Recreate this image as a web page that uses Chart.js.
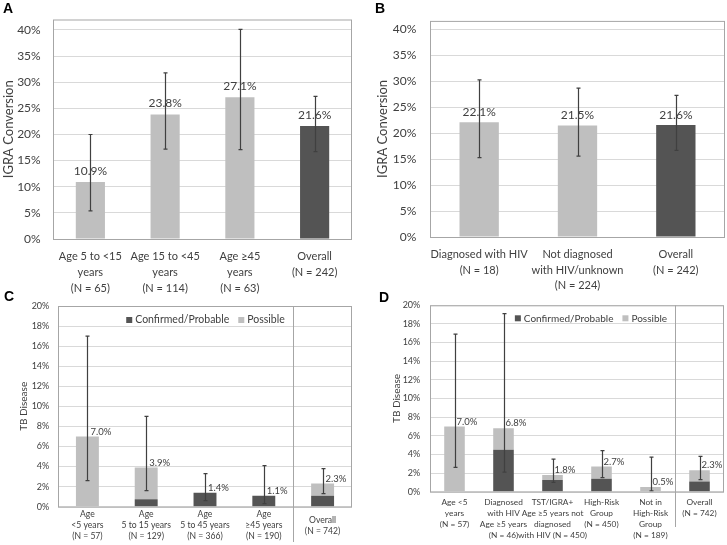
<!DOCTYPE html>
<html>
<head>
<meta charset="utf-8">
<script src="https://cdn.jsdelivr.net/npm/chart.js@4.4.1/dist/chart.umd.min.js"></script>
<style>
  body { margin: 0; background: #fff; }
  #wrap { position: relative; width: 727px; height: 545px; overflow: hidden; }
  canvas { position: absolute; }
  .tag { position: absolute; font: bold 14px "Liberation Sans", Arial, sans-serif; color: #000; }
</style>
</head>
<body>
<div id="wrap">
  <canvas id="cC" width="362" height="255" style="left:0;top:290px"></canvas>
  <canvas id="cD" width="365" height="255" style="left:362px;top:290px"></canvas>
  <canvas id="cA" width="362" height="300" style="left:0;top:0"></canvas>
  <canvas id="cB" width="365" height="300" style="left:362px;top:0"></canvas>
  <div class="tag" style="left:3px;top:0px">A</div>
  <div class="tag" style="left:375px;top:0px">B</div>
  <div class="tag" style="left:4px;top:288px">C</div>
  <div class="tag" style="left:379px;top:289px">D</div>
</div>
<script>
// --- Daten ---
const catsA = [['Age 5 to <15', 'years', '(N = 65)'], ['Age 15 to <45', 'years', '(N = 114)'], ['Age ≥45', 'years', '(N = 63)'], ['Overall', '(N = 242)']];
const igraA = [10.9, 23.8, 27.1, 21.6];
const igraALow = [5.4, 17.2, 17.1, 16.7];
const igraAHigh = [20.0, 31.8, 40.1, 27.3];

const catsB = [['Diagnosed with HIV', '(N = 18)'], ['Not diagnosed', 'with HIV/unknown', '(N = 224)'], ['Overall', '(N = 242)']];
const igraB = [22.1, 21.5, 21.6];
const igraBLow = [15.3, 15.6, 16.7];
const igraBHigh = [30.3, 28.7, 27.3];

const catsC = [['Age', '<5 years', '(N = 57)'], ['Age', '5 to 15 years', '(N = 129)'], ['Age', '5 to 45 years', '(N = 366)'], ['Age', '≥45 years', '(N = 190)'], ['Overall', '(N = 742)']];
const confC = [0, 0.75, 1.4, 1.1, 1.1];
const possC = [7.0, 3.15, 0, 0, 1.2];
const totalC = ['7.0%', '3.9%', '1.4%', '1.1%', '2.3%'];
const tbCLow = [2.6, 1.6, 0.6, 0.3, 1.3];
const tbCHigh = [17.0, 9.0, 3.3, 4.1, 3.8];

const catsD = [['Age <5', 'years', '(N = 57)'], ['Diagnosed', 'with HIV', 'Age ≥5 years', '(N = 46)'], ['TST/IGRA+', 'Age ≥5 years not', 'diagnosed', 'with HIV (N = 450)'], ['High-Risk', 'Group', '(N = 450)'], ['Not in', 'High-Risk', 'Group', '(N = 189)'], ['Overall', '(N = 742)']];
const confD = [0, 4.5, 1.25, 1.4, 0, 1.1];
const possD = [7.0, 2.3, 0.55, 1.3, 0.5, 1.2];
const totalD = ['7.0%', '6.8%', '1.8%', '2.7%', '0.5%', '2.3%'];
const tbDLow = [2.6, 2.1, 1.0, 1.5, 0.1, 1.3];
const tbDHigh = [16.9, 19.1, 3.5, 4.4, 3.7, 3.8];

// --- Farben ---
const LIGHT = '#bfbfbf';
const DARK = '#545454';
const FONT = 'Lato';

// --- Plugins ---
const frame = {
  id: 'frame',
  beforeDatasetsDraw(chart, args, opts) {
    const {ctx, chartArea: a, scales: {x}} = chart;
    ctx.save();
    ctx.strokeStyle = '#a6a6a6';
    ctx.lineWidth = 1;
    ctx.strokeRect(a.left + 0.5, a.top + 0.5, a.right - a.left - 1, a.bottom - a.top);
    if (opts.dividerBottom) {
      const n = chart.data.labels.length;
      const dx = Math.round((x.getPixelForValue(n - 2) + x.getPixelForValue(n - 1)) / 2) + 0.5;
      ctx.beginPath();
      ctx.moveTo(dx, a.top);
      ctx.lineTo(dx, opts.dividerBottom);
      ctx.stroke();
    }
    ctx.restore();
  }
};

const errorBars = {
  id: 'errorBars',
  afterDatasetsDraw(chart, args, opts) {
    const {ctx, scales: {x, y}} = chart;
    ctx.save();
    ctx.strokeStyle = '#404040';
    ctx.lineWidth = 1.2;
    opts.low.forEach((lo, i) => {
      const px = Math.round(x.getPixelForValue(i)) + 0.5;
      const y1 = y.getPixelForValue(lo);
      const y2 = y.getPixelForValue(opts.high[i]);
      ctx.beginPath();
      ctx.moveTo(px, y1); ctx.lineTo(px, y2);
      ctx.moveTo(px - 2, y1); ctx.lineTo(px + 2, y1);
      ctx.moveTo(px - 2, y2); ctx.lineTo(px + 2, y2);
      ctx.stroke();
    });
    ctx.restore();
  }
};

const valueLabels = {
  id: 'valueLabels',
  afterDatasetsDraw(chart, args, opts) {
    const {ctx, scales: {x, y}} = chart;
    ctx.save();
    ctx.fillStyle = '#404040';
    ctx.font = opts.size + 'px ' + FONT;
    ctx.textBaseline = 'middle';
    ctx.textAlign = opts.mode === 'above' ? 'center' : 'left';
    opts.text.forEach((t, i) => {
      const top = y.getPixelForValue(parseFloat(t));
      const px = x.getPixelForValue(i) + (opts.mode === 'above' ? 0 : opts.dx);
      ctx.fillText(t, px, top - opts.dy);
    });
    ctx.restore();
  }
};

const boxLegend = {
  id: 'boxLegend',
  afterDraw(chart, args, opts) {
    if (!opts.cx) return;
    const {ctx} = chart;
    ctx.save();
    ctx.font = opts.size + 'px ' + FONT;
    ctx.textBaseline = 'middle';
    const items = chart.data.datasets.map(d => ({label: d.label, color: d.backgroundColor, w: ctx.measureText(d.label).width}));
    const total = items.reduce((s, it) => s + 6 + 3 + it.w, 0) + 9 * (items.length - 1);
    let px = opts.cx - total / 2;
    items.forEach(it => {
      ctx.fillStyle = it.color;
      ctx.fillRect(px, opts.cy - 3, 6, 6);
      px += 9;
      ctx.fillStyle = '#404040';
      ctx.fillText(it.label, px, opts.cy);
      px += it.w + 9;
    });
    ctx.restore();
  }
};

// --- Chart-Fabrik ---
function makeChart(id, cfg) {
  const datasets = cfg.stacked
    ? [{label: 'Confirmed/Probable', data: cfg.conf, backgroundColor: DARK},
       {label: 'Possible', data: cfg.poss, backgroundColor: LIGHT}]
    : [{label: 'IGRA', data: cfg.values, backgroundColor: cfg.values.map((v, i) => i === cfg.values.length - 1 ? DARK : LIGHT)}];
  datasets.forEach(d => { d.barPercentage = cfg.barPct; d.categoryPercentage = 1; });

  return new Chart(document.getElementById(id), {
    type: 'bar',
    data: {labels: cfg.labels, datasets},
    options: {
      responsive: false,
      animation: false,
      devicePixelRatio: 1,
      layout: {padding: {left: 0, top: cfg.padTop, right: cfg.padRight, bottom: 0}},
      scales: {
        x: {
          stacked: !!cfg.stacked,
          grid: {display: false, drawTicks: false},
          border: {display: false},
          ticks: {
            autoSkip: false, maxRotation: 0, minRotation: 0,
            padding: cfg.xPad, crossAlign: cfg.xAlign || 'near',
            color: '#404040',
            font: {family: FONT, size: cfg.xSize, lineHeight: cfg.xLine + 'px'}
          },
          afterFit: s => { s.height = cfg.xHeight; }
        },
        y: {
          stacked: !!cfg.stacked,
          min: 0, max: cfg.yMax,
          grid: {color: '#d9d9d9', drawTicks: false},
          border: {display: false},
          ticks: {
            stepSize: cfg.step, includeBounds: false, padding: cfg.yPad,
            color: '#404040',
            font: {family: FONT, size: cfg.ySize},
            callback: v => v + '%'
          },
          title: {
            display: true, text: cfg.yTitle, color: '#404040',
            font: {family: FONT, size: cfg.titleSize},
            padding: {top: cfg.titlePad, bottom: 0}
          },
          afterFit: s => { s.width = cfg.yWidth; }
        }
      },
      plugins: {
        legend: {display: false},
        tooltip: {enabled: false},
        frame: {dividerBottom: cfg.dividerBottom},
        errorBars: {low: cfg.low, high: cfg.high},
        valueLabels: {text: cfg.text, mode: cfg.labelMode, size: cfg.labelSize, dx: cfg.labelDx, dy: cfg.labelDy},
        boxLegend: {cx: cfg.legendX, cy: cfg.legendY, size: cfg.legendSize}
      }
    },
    plugins: [frame, errorBars, valueLabels, boxLegend]
  });
}

makeChart('cA', {
  labels: catsA, values: igraA, low: igraALow, high: igraAHigh,
  text: igraA.map(v => v.toFixed(1) + '%'), labelMode: 'above', labelSize: 12, labelDy: 11,
  barPct: 0.39, yMax: 42, step: 5, padTop: 10, padRight: 10, yWidth: 53, xHeight: 61,
  xPad: 9.5, xSize: 11, xLine: 16, yPad: 12.3, ySize: 12,
  yTitle: 'IGRA Conversion', titleSize: 13, titlePad: 1.5
});

makeChart('cB', {
  labels: catsB, values: igraB, low: igraBLow, high: igraBHigh,
  text: igraB.map(v => v.toFixed(1) + '%'), labelMode: 'above', labelSize: 12, labelDy: 10,
  barPct: 0.40, yMax: 41.65, step: 5, padTop: 10, padRight: 2, yWidth: 68, xHeight: 63,
  xPad: 10, xSize: 11, xLine: 15.5, yPad: 13.7, ySize: 12,
  yTitle: 'IGRA Conversion', titleSize: 13, titlePad: 12.9
});

makeChart('cC', {
  stacked: true, labels: catsC, conf: confC, poss: possC, low: tbCLow, high: tbCHigh,
  text: totalC, labelMode: 'right', labelSize: 9.5, labelDx: 3, labelDy: 5,
  barPct: 0.39, yMax: 20, step: 2, padTop: 16, padRight: 10, yWidth: 58, xHeight: 38.3,
  xPad: 7.6, xAlign: 'center', xSize: 8.6, xLine: 11, yPad: 8.7, ySize: 9,
  yTitle: 'TB Disease', titleSize: 10, titlePad: 17.3,
  dividerBottom: 252, legendX: 205.5, legendY: 30, legendSize: 10.5
});

makeChart('cD', {
  stacked: true, labels: catsD, conf: confD, poss: possD, low: tbDLow, high: tbDHigh,
  text: totalD, labelMode: 'right', labelSize: 9.5, labelDx: 2, labelDy: 5,
  barPct: 0.42, yMax: 20, step: 2, padTop: 15.3, padRight: 3, yWidth: 68, xHeight: 53.3,
  xPad: 4.7, xSize: 8.3, xLine: 11.2, yPad: 9.7, ySize: 9,
  yTitle: 'TB Disease', titleSize: 10, titlePad: 28.3,
  dividerBottom: 237, legendX: 229, legendY: 28.3, legendSize: 10
});
</script>
</body>
</html>
